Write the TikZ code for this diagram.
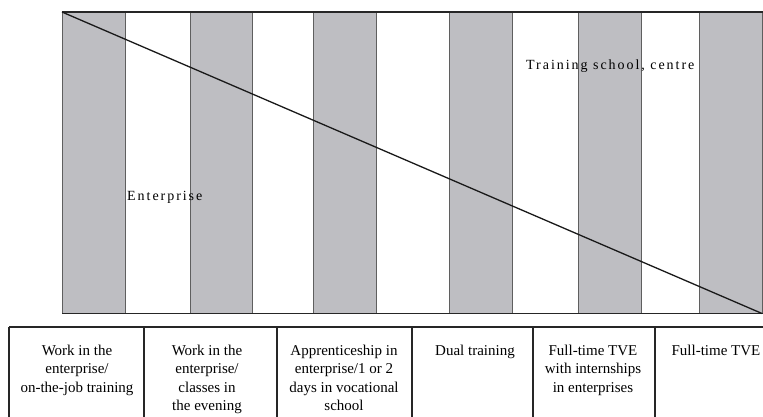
\documentclass[tikz,border=0pt]{standalone}
\usepackage{fontspec}
\setmainfont{Liberation Serif}
\newfontfamily\spacedfont[LetterSpace=14]{Liberation Serif}
\usepackage{xcolor}
\usetikzlibrary{positioning}
\definecolor{stripegray}{RGB}{190,190,194}
\definecolor{edgegray}{RGB}{95,95,95}

\begin{document}
\begin{tikzpicture}[x=1pt, y=-1pt,
  stripe/.style={fill=stripegray, draw=edgegray, line width=0.9pt},
  cell/.style={anchor=north, inner sep=0pt, align=center, font=\fontsize{15}{18.5}\selectfont},
  zone/.style={anchor=base west, inner sep=0pt, font=\spacedfont\fontsize{14}{16}\selectfont}]
\useasboundingbox (0,0) rectangle (763,417);

% chart
\foreach \xa/\xb in {62/125,190/252,313/376,449/512,578/641,699/762}
  \filldraw[stripe] (\xa,12) rectangle (\xb,313.5);
\coordinate (TL) at (62,12);
\coordinate (TR) at (763,12);
\coordinate (BL) at (62,313.5);
\coordinate (BR) at (763,313.5);
\coordinate (end) at (762,313.5);
\draw[line width=1.3pt, black!85] (TL) -- (TR);
\draw[line width=1.3pt, black!85] (BL) -- (BR);
\draw[line width=1.3pt, black!90] (TL) -- (end);

\node[zone] (school) at (526,70) {Training school, centre};
\node[zone] (ent) at (127,200) {Enterprise};

% table
\coordinate (T0) at (9,327);
\coordinate (T6) at (763,327);
\draw[line width=1.2pt, black!85] (T0) -- (T6);
\foreach \xc in {9,144,277,412,533,655}
  \draw[line width=1.2pt, black!85] (\xc,327) -- (\xc,417);

\node[cell] (c1) at (77,344.7) {Work in the\\enterprise/\\on-the-job training};
\node[cell] (c2) at (207,344.7) {Work in the\\enterprise/\\classes in\\the evening};
\node[cell] (c3) at (344,344.7) {Apprenticeship in\\enterprise/1 or 2\\days in vocational\\school};
\node[cell] (c4) at (475,344.7) {Dual training};
\node[cell] (c5) at (593,344.7) {Full-time TVE\\with internships\\in enterprises};
\node[cell] (c6) at (716,344.7) {Full-time TVE};
\end{tikzpicture}
\end{document}
